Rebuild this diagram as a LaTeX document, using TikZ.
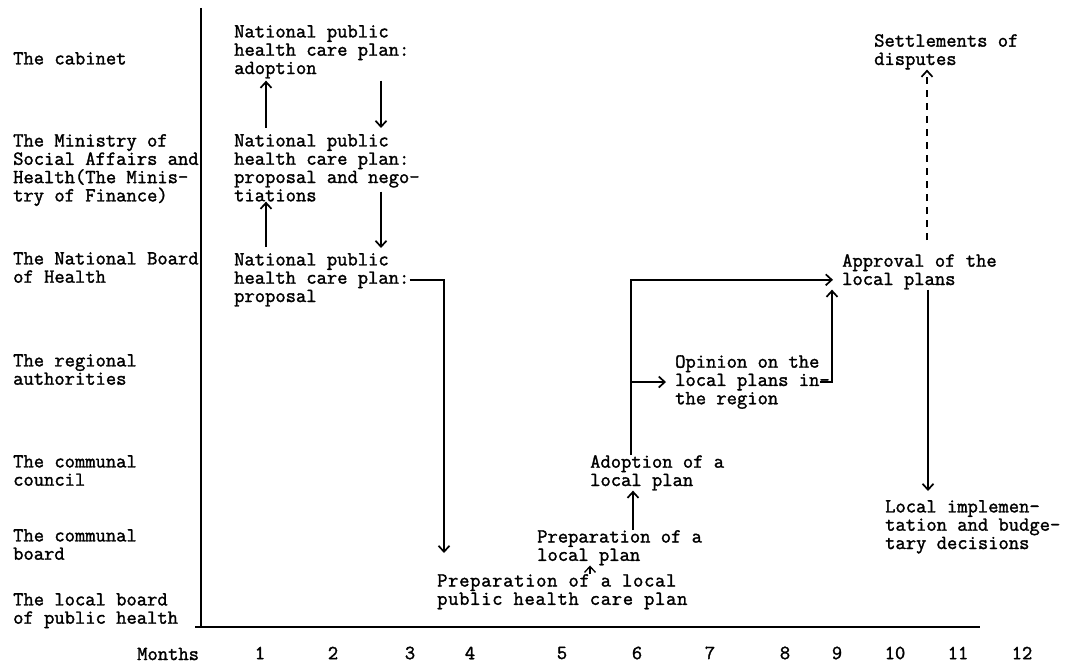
\documentclass[tikz,border=0pt]{standalone}
\usepackage{fontspec}
\setmonofont{Latin Modern Mono}[BoldFont={Latin Modern Mono},BoldFeatures={FakeBold=1.6}]
\usetikzlibrary{arrows.meta}
\tikzset{
  txt/.style={anchor=north west,inner sep=0pt,align=left,
    font=\ttfamily\bfseries\fontsize{20}{18.3}\selectfont},
  arr/.style={line width=1.7pt,-{Straight Barb[length=6pt,width=11pt]}},
}
\begin{document}
\begin{tikzpicture}[x=1pt,y=-1pt]
  \useasboundingbox (0,0) rectangle (1082,666);

  % row labels
  \node[txt] (lcab) at (13,52) {The cabinet};
  \node[txt] (lmin) at (13,134) {The Ministry of\\Social Affairs and\\Health(The Minis-\\try of Finance)};
  \node[txt] (lnbh) at (13,252) {The National Board\\of Health};
  \node[txt] (lreg) at (13,354) {The regional\\authorities};
  \node[txt] (lcc) at (13,455) {The communal\\council};
  \node[txt] (lcb) at (13,529) {The communal\\board};
  \node[txt] (llb) at (13,593) {The local board\\of public health};

  % axes
  \draw[line width=2.6pt] (201,8) -- (201,627);
  \draw[line width=1.6pt] (195,627) -- (980,627);
  \node[txt,anchor=west] (months) at (137,654) {Months};
  \foreach \x/\m in {260/1,333/2,410/3,470/4,562/5,637/6,710/7,785/8,837/9,895/10,958/11,1022/12}
    {\node[txt,anchor=center] at (\x,653) {\m};}

  % stages
  \node[txt] (adopt) at (234,25) {National public\\health care plan:\\adoption};
  \node[txt] (propneg) at (234,134) {National public\\health care plan:\\proposal and nego-\\tiations};
  \node[txt] (prop) at (234,253) {National public\\health care plan:\\proposal};
  \node[txt] (prepph) at (437,574) {\addfontfeature{LetterSpace=3.5}Preparation of a local\\\addfontfeature{LetterSpace=3.5}public health care plan};
  \node[txt] (prepcb) at (537,530) {Preparation of a\\local plan};
  \node[txt] (adoptcc) at (590,455) {Adoption of a\\local plan};
  \node[txt] (opinion) at (675,355) {Opinion on the\\local plans in-\\the region};
  \node[txt] (approval) at (842,254) {Approval of the\\local plans};
  \node[txt] (impl) at (885,500) {Local implemen-\\tation and budge-\\tary decisions};
  \node[txt] (settle) at (874,34) {Settlements of\\disputes};

  \coordinate (upx) at (266,0);
  \coordinate (downx) at (381,0);
  \coordinate (stem) at (631,0);
  \coordinate (implx) at (928,0);

  % connectors
  \draw[arr,shorten <=6pt,shorten >=2pt] (propneg.north -| upx) -- (adopt.south -| upx);
  \draw[arr,shorten <=6pt] (prop.north -| upx) -- (propneg.south -| upx);
  \draw[arr,shorten <=2pt,shorten >=6pt] (adopt.south -| downx) -- (propneg.north -| downx);
  \draw[arr,shorten <=-10pt,shorten >=5pt] (propneg.south -| downx) -- (prop.north -| downx);
  \draw[arr,shorten >=21pt] (prop.east) -| ([shift={(7,0)}]prepph.north west);
  \draw[arr,line width=1.3pt] (prepph.north -| 590,0) -- (prepcb.south -| 590,0);
  \draw[arr] (prepcb.north -| 633,0) -- (adoptcc.south -| 633,0);
  \draw[arr] (adoptcc.north -| stem) |- ([shift={(-9,8)}]approval.west);
  \draw[arr] (opinion.west -| stem) -- ([shift={(-9,0)}]opinion.west);
  \draw[arr] ([shift={(-10,0)}]opinion.east) -| ([shift={(-10,0)}]approval.south west);
  \draw[arr] (approval.south -| implx) -- ([shift={(0,-9)}]impl.north -| implx);
  \draw[arr,dash pattern=on 7pt off 6pt,shorten <=14pt] (approval.north -| 927,0) -- (settle.south -| 927,0);
\end{tikzpicture}
\end{document}
